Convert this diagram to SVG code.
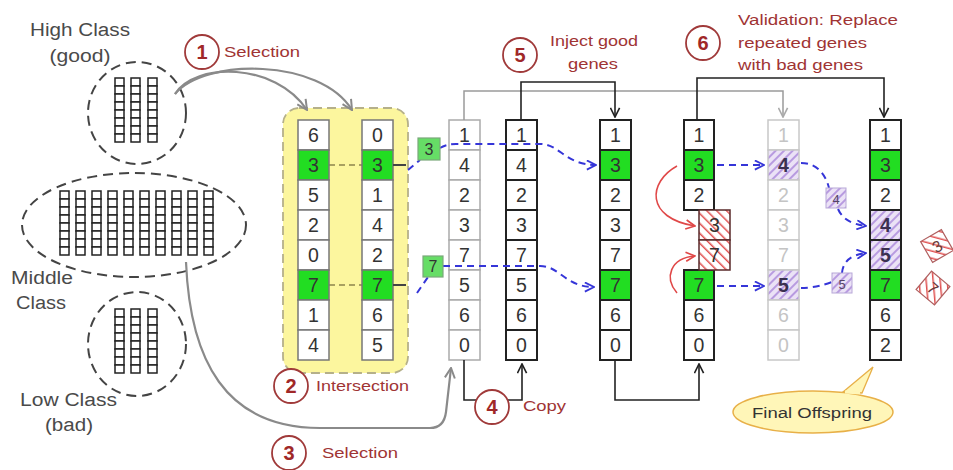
<svg xmlns="http://www.w3.org/2000/svg" xmlns:xlink="http://www.w3.org/1999/xlink" width="953" height="470" viewBox="0 0 953 470">
<defs>
<style>
text{font-family:"Liberation Sans",Arial,sans-serif}
.lbl{font-size:18px;fill:#4a4a4a}
.step{font-size:15.5px;fill:#a03434}
.num{font-size:20px;font-weight:bold;fill:#a02828;text-anchor:middle}
.sc{fill:#fff;stroke:#a03a3a;stroke-width:1.8}
.ct{font-size:19.5px;fill:#333;text-anchor:middle}
.ctl{font-size:19.5px;fill:#c4c4c4;text-anchor:middle}
.cA{fill:#fff;stroke:#777;stroke-width:1.5}
.cC{fill:#fff;stroke:#aaa;stroke-width:1.5}
.cD{fill:#fff;stroke:#222;stroke-width:2}
.cG{fill:#fff;stroke:#c8c8c8;stroke-width:1.5}
.g{fill:#22dd22}
.dash{fill:none;stroke:#444;stroke-width:2;stroke-dasharray:10 6}
.gray{fill:none;stroke:#8a8a8a;stroke-width:2.2}
.blk{fill:none;stroke:#222;stroke-width:1.6}
.blue{fill:none;stroke:#3535d8;stroke-width:2;stroke-dasharray:7 5}
.red{fill:none;stroke:#e04848;stroke-width:1.6}
</style>
<pattern id="ph" patternUnits="userSpaceOnUse" width="6" height="6" patternTransform="rotate(45)">
<rect width="6" height="6" fill="#ebe2f6"/><rect width="2" height="6" fill="#b89be0"/>
</pattern>
<pattern id="rh" patternUnits="userSpaceOnUse" width="7" height="7" patternTransform="rotate(-45)">
<rect width="7" height="7" fill="#fff"/><rect width="1.5" height="7" fill="#e05050"/>
</pattern>
<marker id="ag" viewBox="0 0 12 12" refX="11" refY="6" markerWidth="12" markerHeight="12" markerUnits="userSpaceOnUse" orient="auto">
<path d="M1,1 L11,6 L1,11" fill="none" stroke="#8a8a8a" stroke-width="2"/></marker>
<marker id="ak" viewBox="0 0 12 12" refX="11" refY="6" markerWidth="11" markerHeight="11" markerUnits="userSpaceOnUse" orient="auto">
<path d="M1,1 L11,6 L1,11" fill="none" stroke="#222" stroke-width="1.8"/></marker>
<marker id="al" viewBox="0 0 12 12" refX="11" refY="6" markerWidth="11" markerHeight="11" markerUnits="userSpaceOnUse" orient="auto">
<path d="M1,1 L11,6 L1,11" fill="none" stroke="#aaa" stroke-width="1.8"/></marker>
<marker id="ab" viewBox="0 0 12 12" refX="11" refY="6" markerWidth="11" markerHeight="11" markerUnits="userSpaceOnUse" orient="auto">
<path d="M1,1 L11,6 L1,11" fill="none" stroke="#3535d8" stroke-width="2"/></marker>
<marker id="ar" viewBox="0 0 12 12" refX="11" refY="6" markerWidth="11" markerHeight="11" markerUnits="userSpaceOnUse" orient="auto">
<path d="M1,1 L11,6 L1,11" fill="none" stroke="#e04848" stroke-width="1.8"/></marker>
<symbol id="mc" overflow="visible">
<g fill="#fff" stroke="#222" stroke-width="1.5">
<rect x="0" y="0" width="9" height="8"/><rect x="0" y="8" width="9" height="8"/><rect x="0" y="16" width="9" height="8"/><rect x="0" y="24" width="9" height="8"/>
<rect x="0" y="32" width="9" height="8"/><rect x="0" y="40" width="9" height="8"/><rect x="0" y="48" width="9" height="8"/><rect x="0" y="56" width="9" height="8"/>
</g></symbol>
</defs>
<rect width="953" height="470" fill="#fff"/>

<g id="high-class">
<text class="lbl" x="80" y="36" text-anchor="middle" textLength="100" lengthAdjust="spacingAndGlyphs">High Class</text>
<text class="lbl" x="80" y="62" text-anchor="middle" textLength="61" lengthAdjust="spacingAndGlyphs">(good)</text>
<ellipse class="dash" cx="137" cy="113" rx="49" ry="51"/>
<use href="#mc" x="115" y="78"/><use href="#mc" x="131" y="78"/><use href="#mc" x="148" y="78"/>
</g>
<g id="middle-class">
<ellipse class="dash" cx="134" cy="225" rx="112" ry="52"/>
<use href="#mc" x="60" y="191"/><use href="#mc" x="76" y="191"/><use href="#mc" x="92" y="191"/><use href="#mc" x="108" y="191"/><use href="#mc" x="124" y="191"/>
<use href="#mc" x="140" y="191"/><use href="#mc" x="156" y="191"/><use href="#mc" x="172" y="191"/><use href="#mc" x="188" y="191"/><use href="#mc" x="204" y="191"/>
<text class="lbl" x="42" y="284" text-anchor="middle" textLength="62" lengthAdjust="spacingAndGlyphs">Middle</text>
<text class="lbl" x="41" y="309" text-anchor="middle" textLength="50" lengthAdjust="spacingAndGlyphs">Class</text>
</g>
<g id="low-class">
<ellipse class="dash" cx="137" cy="344" rx="49" ry="52"/>
<use href="#mc" x="115" y="309"/><use href="#mc" x="131" y="309"/><use href="#mc" x="148" y="309"/>
<text class="lbl" x="68.5" y="406" text-anchor="middle" textLength="97" lengthAdjust="spacingAndGlyphs">Low Class</text>
<text class="lbl" x="69" y="431" text-anchor="middle" textLength="48" lengthAdjust="spacingAndGlyphs">(bad)</text>
</g>

<g id="intersection-box">
<rect x="283" y="108" width="125" height="265" rx="16" fill="#fcf69e" stroke="#b5b08a" stroke-width="1.8" stroke-dasharray="9 5"/>
<line x1="329" y1="165" x2="362" y2="165" stroke="#a8a060" stroke-width="1.8" stroke-dasharray="6 4"/>
<line x1="329" y1="285" x2="362" y2="285" stroke="#a8a060" stroke-width="1.8" stroke-dasharray="6 4"/>
</g>

<g id="parent-a">
<rect class="cA" x="298" y="120" width="31" height="30"/><rect class="cA g" x="298" y="150" width="31" height="30"/>
<rect class="cA" x="298" y="180" width="31" height="30"/><rect class="cA" x="298" y="210" width="31" height="30"/>
<rect class="cA" x="298" y="240" width="31" height="30"/><rect class="cA g" x="298" y="270" width="31" height="30"/>
<rect class="cA" x="298" y="300" width="31" height="30"/><rect class="cA" x="298" y="330" width="31" height="30"/>
<text class="ct" x="313.5" y="142">6</text><text class="ct" x="313.5" y="172">3</text><text class="ct" x="313.5" y="202">5</text><text class="ct" x="313.5" y="232">2</text>
<text class="ct" x="313.5" y="262">0</text><text class="ct" x="313.5" y="292">7</text><text class="ct" x="313.5" y="322">1</text><text class="ct" x="313.5" y="352">4</text>
</g>
<g id="parent-b">
<rect class="cA" x="362" y="120" width="31" height="30"/><rect class="cA g" x="362" y="150" width="31" height="30"/>
<rect class="cA" x="362" y="180" width="31" height="30"/><rect class="cA" x="362" y="210" width="31" height="30"/>
<rect class="cA" x="362" y="240" width="31" height="30"/><rect class="cA g" x="362" y="270" width="31" height="30"/>
<rect class="cA" x="362" y="300" width="31" height="30"/><rect class="cA" x="362" y="330" width="31" height="30"/>
<text class="ct" x="377.5" y="142">0</text><text class="ct" x="377.5" y="172">3</text><text class="ct" x="377.5" y="202">1</text><text class="ct" x="377.5" y="232">4</text>
<text class="ct" x="377.5" y="262">2</text><text class="ct" x="377.5" y="292">7</text><text class="ct" x="377.5" y="322">6</text><text class="ct" x="377.5" y="352">5</text>
</g>

<g id="bad-parent">
<rect class="cC" x="449" y="120" width="31" height="30"/><rect class="cC" x="449" y="150" width="31" height="30"/>
<rect class="cC" x="449" y="180" width="31" height="30"/><rect class="cC" x="449" y="210" width="31" height="30"/>
<rect class="cC" x="449" y="240" width="31" height="30"/><rect class="cC" x="449" y="270" width="31" height="30"/>
<rect class="cC" x="449" y="300" width="31" height="30"/><rect class="cC" x="449" y="330" width="31" height="30"/>
<text class="ct" x="464.5" y="142">1</text><text class="ct" x="464.5" y="172">4</text><text class="ct" x="464.5" y="202">2</text><text class="ct" x="464.5" y="232">3</text>
<text class="ct" x="464.5" y="262">7</text><text class="ct" x="464.5" y="292">5</text><text class="ct" x="464.5" y="322">6</text><text class="ct" x="464.5" y="352">0</text>
</g>
<g id="copy">
<rect class="cD" x="506" y="120" width="31" height="30"/><rect class="cD" x="506" y="150" width="31" height="30"/>
<rect class="cD" x="506" y="180" width="31" height="30"/><rect class="cD" x="506" y="210" width="31" height="30"/>
<rect class="cD" x="506" y="240" width="31" height="30"/><rect class="cD" x="506" y="270" width="31" height="30"/>
<rect class="cD" x="506" y="300" width="31" height="30"/><rect class="cD" x="506" y="330" width="31" height="30"/>
<text class="ct" x="521.5" y="142">1</text><text class="ct" x="521.5" y="172">4</text><text class="ct" x="521.5" y="202">2</text><text class="ct" x="521.5" y="232">3</text>
<text class="ct" x="521.5" y="262">7</text><text class="ct" x="521.5" y="292">5</text><text class="ct" x="521.5" y="322">6</text><text class="ct" x="521.5" y="352">0</text>
</g>
<g id="injected">
<rect class="cD" x="600" y="120" width="31" height="30"/><rect class="cD g" x="600" y="150" width="31" height="30"/>
<rect class="cD" x="600" y="180" width="31" height="30"/><rect class="cD" x="600" y="210" width="31" height="30"/>
<rect class="cD" x="600" y="240" width="31" height="30"/><rect class="cD g" x="600" y="270" width="31" height="30"/>
<rect class="cD" x="600" y="300" width="31" height="30"/><rect class="cD" x="600" y="330" width="31" height="30"/>
<text class="ct" x="615.5" y="142">1</text><text class="ct" x="615.5" y="172">3</text><text class="ct" x="615.5" y="202">2</text><text class="ct" x="615.5" y="232">3</text>
<text class="ct" x="615.5" y="262">7</text><text class="ct" x="615.5" y="292">7</text><text class="ct" x="615.5" y="322">6</text><text class="ct" x="615.5" y="352">0</text>
</g>
<g id="validation">
<rect class="cD" x="684" y="120" width="30" height="30"/><rect class="cD g" x="684" y="150" width="30" height="30"/>
<rect class="cD" x="684" y="180" width="30" height="30"/>
<rect class="cD g" x="684" y="270" width="30" height="30"/>
<rect class="cD" x="684" y="300" width="30" height="30"/><rect class="cD" x="684" y="330" width="30" height="30"/>
<rect x="699" y="210" width="31" height="30" fill="url(#rh)" stroke="#5a2a2a" stroke-width="1.5"/>
<rect x="699" y="240" width="31" height="30" fill="url(#rh)" stroke="#5a2a2a" stroke-width="1.5"/>
<text class="ct" x="699" y="142">1</text><text class="ct" x="699" y="172">3</text><text class="ct" x="699" y="202">2</text>
<text class="ct" x="714.5" y="232">3</text><text class="ct" x="714.5" y="262">7</text>
<text class="ct" x="699" y="292">7</text><text class="ct" x="699" y="322">6</text><text class="ct" x="699" y="352">0</text>
</g>
<g id="bad-genes">
<rect class="cG" x="768" y="120" width="31" height="30"/><rect class="cG" x="768" y="150" width="31" height="30" style="fill:url(#ph)"/>
<rect class="cG" x="768" y="180" width="31" height="30"/><rect class="cG" x="768" y="210" width="31" height="30"/>
<rect class="cG" x="768" y="240" width="31" height="30"/><rect class="cG" x="768" y="270" width="31" height="30" style="fill:url(#ph)"/>
<rect class="cG" x="768" y="300" width="31" height="30"/><rect class="cG" x="768" y="330" width="31" height="30"/>
<text class="ctl" x="783.5" y="142">1</text><text class="ct" x="783.5" y="172" style="font-weight:bold;fill:#3a3050">4</text><text class="ctl" x="783.5" y="202">2</text><text class="ctl" x="783.5" y="232">3</text>
<text class="ctl" x="783.5" y="262">7</text><text class="ct" x="783.5" y="292" style="font-weight:bold;fill:#3a3050">5</text><text class="ctl" x="783.5" y="322">6</text><text class="ctl" x="783.5" y="352">0</text>
</g>
<g id="final-offspring">
<rect class="cD" x="870" y="120" width="31" height="30"/><rect class="cD g" x="870" y="150" width="31" height="30"/>
<rect class="cD" x="870" y="180" width="31" height="30"/><rect class="cD" x="870" y="210" width="31" height="30" style="fill:url(#ph)"/>
<rect class="cD" x="870" y="240" width="31" height="30" style="fill:url(#ph)"/><rect class="cD g" x="870" y="270" width="31" height="30"/>
<rect class="cD" x="870" y="300" width="31" height="30"/><rect class="cD" x="870" y="330" width="31" height="30"/>
<text class="ct" x="885.5" y="142">1</text><text class="ct" x="885.5" y="172">3</text><text class="ct" x="885.5" y="202">2</text><text class="ct" x="885.5" y="232" style="font-weight:bold;fill:#3a3050">4</text>
<text class="ct" x="885.5" y="262" style="font-weight:bold;fill:#3a3050">5</text><text class="ct" x="885.5" y="292">7</text><text class="ct" x="885.5" y="322">6</text><text class="ct" x="885.5" y="352">2</text>
</g>

<g id="connectors">
<path class="gray" d="M175,94 C195,62 275,62 307,110" marker-end="url(#ag)"/>
<path class="gray" d="M175,94 C205,58 320,58 352,110" marker-end="url(#ag)"/>
<path class="gray" d="M186,262 C190,360 225,428 320,428 L430,428 Q444,428 446,412 L451,368" marker-end="url(#ag)"/>
<path d="M464,120 L464,91 L783,91 L783,117" fill="none" stroke="#9a9a9a" stroke-width="1.5" marker-end="url(#al)"/>
<path class="blk" d="M521,120 L521,82 L615,82 L615,117" marker-end="url(#ak)"/>
<path class="blk" d="M697,120 L697,78 L884,78 L884,117" marker-end="url(#ak)"/>
<path class="blk" d="M464,360 L464,400 L522,400 L522,364" marker-end="url(#ak)"/>
<path class="blk" d="M615,360 L615,400 L699,400 L699,364" marker-end="url(#ak)"/>
<line x1="393" y1="165" x2="406" y2="165" stroke="#444" stroke-width="2"/>
<line x1="393" y1="285" x2="406" y2="285" stroke="#444" stroke-width="2"/>
<path class="blue" d="M408,170 L420,160"/>
<path class="blue" d="M440,148 Q446,144 456,144 L540,144 C560,144 565,165 596,165" marker-end="url(#ab)"/>
<path class="blue" d="M417,293 L428,277"/>
<path class="blue" d="M443,266 L540,266 C560,266 565,287 594,287" marker-end="url(#ab)"/>
<path class="blue" d="M717,165 L764,165" marker-end="url(#ab)"/>
<path class="blue" d="M717,286 L764,286" marker-end="url(#ab)"/>
<path class="blue" d="M801,163 C815,163 825,172 829,188"/>
<path class="blue" d="M838,209 C842,218 850,224 866,226" marker-end="url(#ab)"/>
<path class="blue" d="M801,288 Q815,288 832,282"/>
<path class="blue" d="M842,273 C843,262 850,255 866,253" marker-end="url(#ab)"/>
<path class="red" d="M677,166 C648,182 645,218 695,226" marker-end="url(#ar)"/>
<path class="red" d="M677,293 C664,278 670,258 695,256" marker-end="url(#ar)"/>
</g>

<g id="moved-genes">
<rect x="418" y="138" width="22" height="22" fill="#66dd66" stroke="#7aa87a" stroke-width="1.2"/>
<text x="429" y="155" font-size="16" fill="#333" text-anchor="middle">3</text>
<rect x="423" y="256" width="20" height="21" fill="#66dd66" stroke="#7aa87a" stroke-width="1.2"/>
<text x="433" y="272" font-size="16" fill="#333" text-anchor="middle">7</text>
<rect x="826" y="188" width="20" height="20" style="fill:url(#ph)" stroke="#b8a8d8" stroke-width="1"/>
<text x="836" y="204" font-size="13" fill="#554466" text-anchor="middle">4</text>
<rect x="832" y="273" width="20" height="20" style="fill:url(#ph)" stroke="#b8a8d8" stroke-width="1"/>
<text x="842" y="289" font-size="13" fill="#554466" text-anchor="middle">5</text>
<g transform="translate(937,246) rotate(-30)">
<rect x="-12" y="-12" width="24" height="24" fill="url(#rh)" stroke="#b06060" stroke-width="1.2"/>
<text x="0" y="6" font-size="16" fill="#6a3a3a" text-anchor="middle">3</text></g>
<g transform="translate(933,288) rotate(40)">
<rect x="-12" y="-12" width="24" height="24" fill="url(#rh)" stroke="#b06060" stroke-width="1.2"/>
<text x="0" y="6" font-size="16" fill="#6a3a3a" text-anchor="middle">7</text></g>
</g>

<g id="step-1"><circle class="sc" cx="202" cy="52" r="17"/><text class="num" x="202" y="59">1</text><text class="step" x="224" y="57" textLength="76" lengthAdjust="spacingAndGlyphs">Selection</text></g>
<g id="step-2"><circle class="sc" cx="291" cy="386" r="17"/><text class="num" x="291" y="393">2</text><text class="step" x="316" y="391" textLength="93" lengthAdjust="spacingAndGlyphs">Intersection</text></g>
<g id="step-3"><circle class="sc" cx="289" cy="453" r="17"/><text class="num" x="289" y="460">3</text><text class="step" x="322" y="458" textLength="76" lengthAdjust="spacingAndGlyphs">Selection</text></g>
<g id="step-4"><circle class="sc" cx="492" cy="407" r="17"/><text class="num" x="492" y="414">4</text><text class="step" x="523" y="411" textLength="43" lengthAdjust="spacingAndGlyphs">Copy</text></g>
<g id="step-5"><circle class="sc" cx="520" cy="55" r="17"/><text class="num" x="520" y="62">5</text>
<text class="step" x="594" y="46" text-anchor="middle" textLength="88" lengthAdjust="spacingAndGlyphs">Inject good</text><text class="step" x="593" y="69" text-anchor="middle" textLength="50" lengthAdjust="spacingAndGlyphs">genes</text></g>
<g id="step-6"><circle class="sc" cx="703" cy="43" r="17"/><text class="num" x="703" y="50">6</text>
<text class="step" x="738" y="25" textLength="160" lengthAdjust="spacingAndGlyphs">Validation: Replace</text><text class="step" x="738" y="48" textLength="129" lengthAdjust="spacingAndGlyphs">repeated genes</text><text class="step" x="738" y="70" textLength="125" lengthAdjust="spacingAndGlyphs">with bad genes</text></g>

<g id="final-callout">
<path d="M843,392 L873,367 L862,393 Z" fill="#fff6b8" stroke="#e8b048" stroke-width="1.3"/>
<ellipse cx="813" cy="412" rx="80" ry="21" fill="#fff6b8" stroke="#e8b048" stroke-width="1.5"/>
<path d="M845,392 L860,393" stroke="#fff6b8" stroke-width="3"/>
<text x="812" y="418" font-size="15.5" fill="#333" text-anchor="middle" textLength="120" lengthAdjust="spacingAndGlyphs">Final Offspring</text>
</g>
</svg>
